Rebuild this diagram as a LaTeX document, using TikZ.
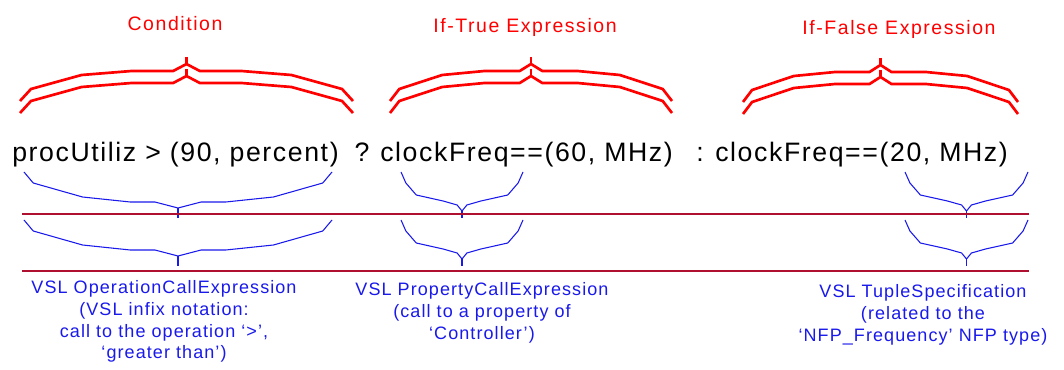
\documentclass[tikz,border=0pt]{standalone}
\usepackage{fontspec}
\setmainfont{Liberation Sans}
\usepackage{tikz}
\usetikzlibrary{calc}
\definecolor{rulered}{RGB}{176,16,48}
\definecolor{vslblue}{RGB}{25,25,235}
\tikzset{
 redbrace/.style={red, line width=2pt},
 bluebrace/.style={vslblue, line width=.8pt},
 sepline/.style={rulered, line width=1.6pt},
 exprtext/.style={inner sep=0, font=\fontsize{20}{24}\selectfont\addfontfeatures{LetterSpace=6}},
 parttext/.style={inner sep=0, anchor=base, text=red, font=\fontsize{14.6}{17}\selectfont\addfontfeatures{LetterSpace=8}},
 metatext/.style={inner sep=0, anchor=north, align=center, text=vslblue, font=\fontsize{13.5}{16.4}\selectfont\addfontfeatures{LetterSpace=6}}
}
% #1 left end, #2 right end, #3 top of the stem
\newcommand{\redbrace}[3]{
 \pgfmathsetmacro{\bm}{(#1+#2)/2}
 \pgfmathsetmacro{\bh}{(#2-#1)/2}
 \foreach \dy in {0,12} {
  \draw[redbrace] (#1,#3+44+\dy) -- ({#1+.066*\bh},#3+32+\dy) -- ({#1+.37*\bh},#3+18+\dy) -- ({#1+.67*\bh},#3+14+\dy) -- ({#1+.92*\bh},#3+14+\dy) -- (\bm,#3+7+\dy)
   -- ({#2-.92*\bh},#3+14+\dy) -- ({#2-.67*\bh},#3+14+\dy) -- ({#2-.37*\bh},#3+18+\dy) -- ({#2-.066*\bh},#3+32+\dy) -- (#2,#3+44+\dy);
  \draw[redbrace] (\bm,#3+\dy) -- (\bm,#3+7+\dy);
 }
}
% #1 left end, #2 right end, #3 top of the ends
\newcommand{\bluebrace}[3]{
 \pgfmathsetmacro{\bm}{(#1+#2)/2}
 \pgfmathsetmacro{\bh}{(#2-#1)/2}
 \draw[bluebrace] (#1,#3) -- ({#1+.06*\bh},#3+11) -- ({#1+.38*\bh},#3+25) -- ({#1+.69*\bh},#3+30) -- ({#1+.85*\bh},#3+30) -- (\bm,#3+36)
  -- ({#2-.85*\bh},#3+30) -- ({#2-.69*\bh},#3+30) -- ({#2-.38*\bh},#3+25) -- ({#2-.06*\bh},#3+11) -- (#2,#3);
 \draw[bluebrace] (\bm,#3+36) -- (\bm,#3+46);
}
% same for the short ones
\newcommand{\narrowbrace}[3]{
 \pgfmathsetmacro{\bm}{(#1+#2)/2}
 \pgfmathsetmacro{\bh}{(#2-#1)/2}
 \draw[bluebrace] (#1,#3) -- ({#1+.08*\bh},#3+11) -- ({#1+.25*\bh},#3+23) -- ({#1+.69*\bh},#3+29) -- ({#1+.92*\bh},#3+33) -- (\bm,#3+39)
  -- ({#2-.92*\bh},#3+33) -- ({#2-.69*\bh},#3+29) -- ({#2-.25*\bh},#3+23) -- ({#2-.08*\bh},#3+11) -- (#2,#3);
 \draw[bluebrace] (\bm,#3+39) -- (\bm,#3+46);
}

\begin{document}
\begin{tikzpicture}[x=.75pt, y=-.75pt]
\useasboundingbox (0,0) rectangle (1064,370);

\node[exprtext, anchor=base west] (cond) at (12,162) {procUtiliz > (90, percent)};
\node[exprtext, anchor=base] (qmark) at (362,162) {?};
\node[exprtext, anchor=base west] (iftrue) at (380,162) {clockFreq==(60, MHz)};
\node[exprtext, anchor=base] (colon) at (700,162) {:};
\node[exprtext, anchor=base west] (iffalse) at (715,162) {clockFreq==(20, MHz)};

\node[parttext] (condlbl) at (175,31) {Condition};
\node[parttext] (truelbl) at (525,33) {If-True Expression};
\node[parttext] (falselbl) at (899,35) {If-False Expression};

\redbrace{20}{353}{57}
\redbrace{390}{672}{57}
\redbrace{743}{1018}{58}

\foreach \y in {172,220} {
 \bluebrace{24}{332}{\y}
 \narrowbrace{401}{523}{\y}
 \narrowbrace{905}{1028}{\y}
}
\draw[sepline] (22,214) -- (1029,214);
\draw[sepline] (22,271) -- (1029,271);

\node[metatext] (opcall) at (164,280) {VSL OperationCallExpression\\(VSL infix notation:\\call to the operation `>',\\`greater than')};
\node[metatext] (propcall) at (482,282) {VSL PropertyCallExpression\\(call to a property of\\`Controller')};
\node[metatext] (tuplespec) at (923,284) {VSL TupleSpecification\\(related to the\\`NFP\_Frequency' NFP type)};
\end{tikzpicture}
\end{document}
